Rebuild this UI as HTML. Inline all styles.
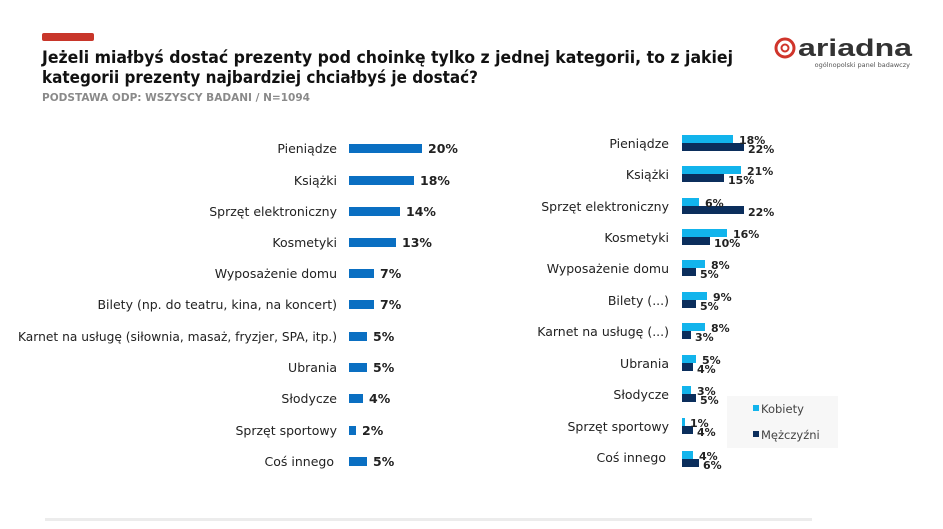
<!DOCTYPE html>
<html><head><meta charset="utf-8"><style>
body{margin:0;background:#fff;}
svg{display:block;font-family:"DejaVu Sans","Liberation Sans",sans-serif;}
</style></head><body>
<svg width="943" height="529" viewBox="0 0 943 529" xmlns="http://www.w3.org/2000/svg">
<rect x="42" y="33" width="52" height="8" rx="2" fill="#c8362a"/>
<text x="42" y="63" font-size="16.5" font-weight="bold" fill="#111" textLength="691" lengthAdjust="spacingAndGlyphs">Jeżeli miałbyś dostać prezenty pod choinkę tylko z jednej kategorii, to z jakiej</text>
<text x="42" y="83" font-size="16.5" font-weight="bold" fill="#111" textLength="436" lengthAdjust="spacingAndGlyphs">kategorii prezenty najbardziej chciałbyś je dostać?</text>
<text x="42" y="101" font-size="11" font-weight="bold" fill="#8a8a8a" textLength="268" lengthAdjust="spacingAndGlyphs">PODSTAWA ODP: WSZYSCY BADANI / N=1094</text>
<circle cx="785" cy="48" r="9" fill="none" stroke="#d0352b" stroke-width="3"/>
<circle cx="785" cy="48" r="3.5" fill="none" stroke="#d0352b" stroke-width="2"/>
<text x="798" y="56" font-size="24" font-weight="bold" fill="#333" font-family="Liberation Sans, sans-serif" textLength="114" lengthAdjust="spacingAndGlyphs">ariadna</text>
<text x="910" y="67" font-size="6.5" fill="#555" text-anchor="end">ogólnopolski panel badawczy</text>
<g font-size="12.5" fill="#222" text-anchor="end">
<text x="337" y="153">Pieniądze</text>
<text x="337" y="185">Książki</text>
<text x="337" y="216">Sprzęt elektroniczny</text>
<text x="337" y="247">Kosmetyki</text>
<text x="337" y="278">Wyposażenie domu</text>
<text x="337" y="309">Bilety (np. do teatru, kina, na koncert)</text>
<text x="337" y="341" textLength="319" lengthAdjust="spacingAndGlyphs">Karnet na usługę (siłownia, masaż, fryzjer, SPA, itp.)</text>
<text x="337" y="372">Ubrania</text>
<text x="337" y="403">Słodycze</text>
<text x="337" y="435">Sprzęt sportowy</text>
<text x="334" y="466">Coś innego</text>
</g>
<g fill="#0a6fc2">
<rect x="349" y="144" width="73" height="9"/>
<rect x="349" y="176" width="65" height="9"/>
<rect x="349" y="207" width="51" height="9"/>
<rect x="349" y="238" width="47" height="9"/>
<rect x="349" y="269" width="25" height="9"/>
<rect x="349" y="300" width="25" height="9"/>
<rect x="349" y="332" width="18" height="9"/>
<rect x="349" y="363" width="18" height="9"/>
<rect x="349" y="394" width="14" height="9"/>
<rect x="349" y="426" width="7" height="9"/>
<rect x="349" y="457" width="18" height="9"/>
</g>
<g font-size="12.5" font-weight="bold" fill="#222">
<text x="428" y="153">20%</text>
<text x="420" y="185">18%</text>
<text x="406" y="216">14%</text>
<text x="402" y="247">13%</text>
<text x="380" y="278">7%</text>
<text x="380" y="309">7%</text>
<text x="373" y="341">5%</text>
<text x="373" y="372">5%</text>
<text x="369" y="403">4%</text>
<text x="362" y="435">2%</text>
<text x="373" y="466">5%</text>
</g>
<g font-size="12.5" fill="#222" text-anchor="end">
<text x="669" y="148">Pieniądze</text>
<text x="669" y="179">Książki</text>
<text x="669" y="211">Sprzęt elektroniczny</text>
<text x="669" y="242">Kosmetyki</text>
<text x="669" y="273">Wyposażenie domu</text>
<text x="669" y="305">Bilety (...)</text>
<text x="669" y="336">Karnet na usługę (...)</text>
<text x="669" y="368">Ubrania</text>
<text x="669" y="399">Słodycze</text>
<text x="669" y="431">Sprzęt sportowy</text>
<text x="666" y="462">Coś innego</text>
</g>
<g fill="#12b4ec">
<rect x="682" y="135" width="51" height="8"/>
<rect x="682" y="166" width="59" height="8"/>
<rect x="682" y="198" width="17" height="8"/>
<rect x="682" y="229" width="45" height="8"/>
<rect x="682" y="260" width="23" height="8"/>
<rect x="682" y="292" width="25" height="8"/>
<rect x="682" y="323" width="23" height="8"/>
<rect x="682" y="355" width="14" height="8"/>
<rect x="682" y="386" width="9" height="8"/>
<rect x="682" y="418" width="3" height="8"/>
<rect x="682" y="451" width="11" height="8"/>
</g>
<g fill="#0b2e5c">
<rect x="682" y="143" width="62" height="8"/>
<rect x="682" y="174" width="42" height="8"/>
<rect x="682" y="206" width="62" height="8"/>
<rect x="682" y="237" width="28" height="8"/>
<rect x="682" y="268" width="14" height="8"/>
<rect x="682" y="300" width="14" height="8"/>
<rect x="682" y="331" width="9" height="8"/>
<rect x="682" y="363" width="11" height="8"/>
<rect x="682" y="394" width="14" height="8"/>
<rect x="682" y="426" width="11" height="8"/>
<rect x="682" y="459" width="17" height="8"/>
</g>
<g font-size="11" font-weight="bold" fill="#222">
<text x="739" y="144">18%</text><text x="748" y="153">22%</text>
<text x="747" y="175">21%</text><text x="728" y="184">15%</text>
<text x="705" y="207">6%</text><text x="748" y="216">22%</text>
<text x="733" y="238">16%</text><text x="714" y="247">10%</text>
<text x="711" y="269">8%</text><text x="700" y="278">5%</text>
<text x="713" y="301">9%</text><text x="700" y="310">5%</text>
<text x="711" y="332">8%</text><text x="695" y="341">3%</text>
<text x="702" y="364">5%</text><text x="697" y="373">4%</text>
<text x="697" y="395">3%</text><text x="700" y="404">5%</text>
<text x="690" y="427">1%</text><text x="697" y="436">4%</text>
<text x="699" y="460">4%</text><text x="703" y="469">6%</text>
</g>
<rect x="727" y="396" width="111" height="52" fill="#f7f7f7"/>
<rect x="753" y="405" width="6" height="6" fill="#12b4ec"/>
<text x="761" y="413" font-size="11.5" fill="#444">Kobiety</text>
<rect x="753" y="431" width="6" height="6" fill="#0b2e5c"/>
<text x="761" y="439" font-size="11.5" fill="#444">Mężczyźni</text>
<rect x="45" y="518" width="767" height="3" fill="#ececec"/>
</svg>
</body></html>
